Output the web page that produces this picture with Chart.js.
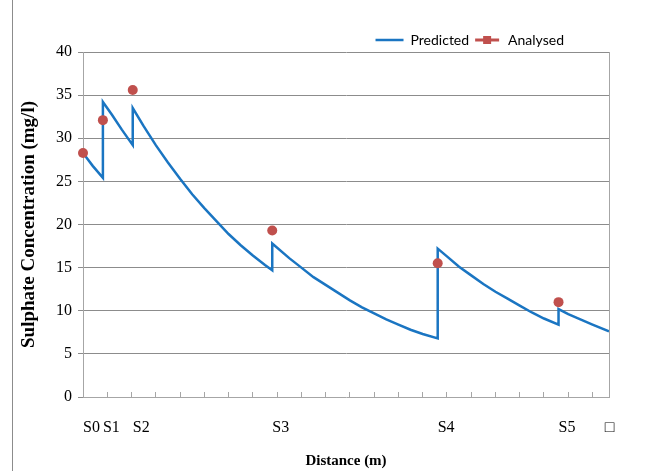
<!DOCTYPE html>
<html>
<head>
<meta charset="UTF-8">
<title>Sulphate Concentration vs Distance</title>
<script src="https://cdn.jsdelivr.net/npm/chart.js"></script>
<style>
  body { margin: 0; background: #fff; }
  .wrap { position: relative; width: 648px; height: 471px; }
  .wrap:before { content: ''; position: absolute; left: 12px; top: 0; bottom: 0; border-left: 1px solid #8c8c8c; }
  canvas { position: absolute; left: 0; top: 0; }
</style>
</head>
<body>
<div class="wrap"><canvas id="sulphateChart" width="648" height="471"></canvas></div>
<script>
// sampling stations (distance in m)
const stations = ['S0', 'S1', 'S2', 'S3', 'S4', 'S5'];
const stationDist = [0, 82, 205, 780, 1462, 1960];
const analysed = [28.3, 32.1, 35.6, 19.3, 15.5, 11.0];

// predicted profile
const predDist = [
  0, 40, 82,
  82, 120, 160, 205,
  205, 250, 300, 350, 400, 450, 500, 550, 600, 650, 700, 750, 780,
  780, 850, 900, 950, 1000, 1050, 1100, 1150, 1200, 1250, 1300, 1350, 1400, 1462,
  1462, 1500, 1550, 1600, 1650, 1700, 1750, 1800, 1850, 1900, 1960,
  1960, 2000, 2050, 2100, 2168
];
const predicted = [
  28.3, 26.8, 25.4,
  34.2, 32.7, 31.0, 29.2,
  33.5, 31.4, 29.2, 27.2, 25.3, 23.5, 21.9, 20.4, 18.9, 17.6, 16.4, 15.3, 14.7,
  17.8, 16.1, 15.0, 13.9, 13.0, 12.1, 11.2, 10.4, 9.7, 9.0, 8.4, 7.8, 7.3, 6.8,
  17.2, 16.3, 15.1, 14.1, 13.1, 12.2, 11.4, 10.6, 9.8, 9.1, 8.4,
  10.2, 9.6, 9.0, 8.4, 7.6
];

// axis
const xMax = 2168;
const xStep = 100;
const endLabel = '\u25A1';
const endLabelPos = 2150;

const serif = 'Liberation Serif, Times New Roman, serif';

// tick marks every 100 m, plus the station labels
const markTicks = [];
for (let v = 0; v <= xMax; v += xStep) markTicks.push(v);
const labelTicks = stationDist.concat([endLabelPos]);
const allTicks = Array.from(new Set(markTicks.concat(labelTicks))).sort((a, b) => a - b);

function labelFor(v) {
  const i = stationDist.indexOf(v);
  if (i >= 0) return stations[i];
  if (v === endLabelPos) return endLabel;
  return '';
}

// legend icon for Analysed: red line with square marker
const analysedIcon = document.createElement('canvas');
analysedIcon.width = 28;
analysedIcon.height = 10;
(function () {
  const c = analysedIcon.getContext('2d');
  c.strokeStyle = '#c0504d';
  c.lineWidth = 3;
  c.beginPath(); c.moveTo(2, 5); c.lineTo(26, 5); c.stroke();
  c.fillStyle = '#c0504d';
  c.fillRect(10, 1, 8, 8);
})();

const legendShift = {
  id: 'legendShift',
  afterLayout(chart) {
    const lg = chart.legend;
    lg.right -= 41;
    lg.top += 5;
    lg.bottom += 5;
  }
};

new Chart(document.getElementById('sulphateChart'), {
  type: 'line',
  data: {
    datasets: [{
      label: 'Predicted',
      data: predDist.map((d, i) => ({ x: d, y: predicted[i] })),
      borderColor: '#1a75c2',
      backgroundColor: '#1a75c2',
      borderWidth: 2.5,
      pointRadius: 0,
      tension: 0,
      order: 2
    }, {
      label: 'Analysed',
      data: stationDist.map((d, i) => ({ x: d, y: analysed[i] })),
      showLine: false,
      borderColor: '#c0504d',
      backgroundColor: '#c0504d',
      pointRadius: 5,
      pointBorderWidth: 0,
      clip: false,
      order: 1
    }]
  },
  options: {
    responsive: false,
    animation: false,
    layout: { padding: { left: 0, right: 39, top: 24, bottom: 0 } },
    plugins: {
      legend: {
        position: 'top',
        align: 'end',
        labels: {
          usePointStyle: true,
          pointStyleWidth: 28,
          padding: 4,
          color: '#000',
          font: { family: 'Lato, sans-serif', size: 14 },
          generateLabels(chart) {
            const items = Chart.defaults.plugins.legend.labels.generateLabels(chart);
            items.sort((a, b) => a.datasetIndex - b.datasetIndex);
            items.forEach(it => {
              it.pointStyle = it.text === 'Analysed' ? analysedIcon : 'line';
            });
            return items;
          }
        }
      },
      tooltip: { enabled: false }
    },
    scales: {
      x: {
        type: 'linear',
        position: 'bottom',
        min: 0,
        max: xMax,
        afterBuildTicks: (axis) => { axis.ticks = allTicks.map(v => ({ value: v })); },
        afterFit: (axis) => { axis.height = 74; },
        ticks: {
          autoSkip: false,
          maxRotation: 0,
          minRotation: 0,
          align: 'start',
          padding: 26,
          color: '#000',
          font: { family: serif, size: 16 },
          callback: (v) => labelFor(v)
        },
        grid: {
          drawOnChartArea: false,
          tickLength: -5,
          tickColor: (ctx) => (ctx.tick && markTicks.includes(ctx.tick.value)) ? '#a6a6a6' : 'rgba(0,0,0,0)'
        },
        border: { color: '#a6a6a6' },
        title: {
          display: true,
          text: 'Distance (m)',
          color: '#000',
          font: { family: serif, size: 15, weight: 'bold' },
          padding: { top: 0, bottom: 1 }
        }
      },
      y: {
        min: 0,
        max: 40,
        afterFit: (axis) => { axis.width = 83; },
        ticks: {
          stepSize: 5,
          padding: 6,
          color: '#000',
          font: { family: serif, size: 16 }
        },
        grid: {
          color: (ctx) => ctx.tick && ctx.tick.value === 0 ? 'rgba(0,0,0,0)' : '#8c8c8c',
          tickColor: '#8c8c8c',
          tickLength: 5
        },
        border: { color: '#a6a6a6' },
        title: {
          display: true,
          text: 'Sulphate Concentration (mg/l)',
          color: '#000',
          font: { family: serif, size: 19, weight: 'bold' },
          padding: { top: 18, bottom: 0 }
        }
      },
      y2: {
        position: 'right',
        min: 0,
        max: 40,
        afterFit: (axis) => { axis.width = 0; },
        ticks: { display: false },
        grid: { display: false },
        border: { display: true, color: '#a6a6a6' }
      }
    }
  },
  plugins: [legendShift]
});
</script>
</body>
</html>
